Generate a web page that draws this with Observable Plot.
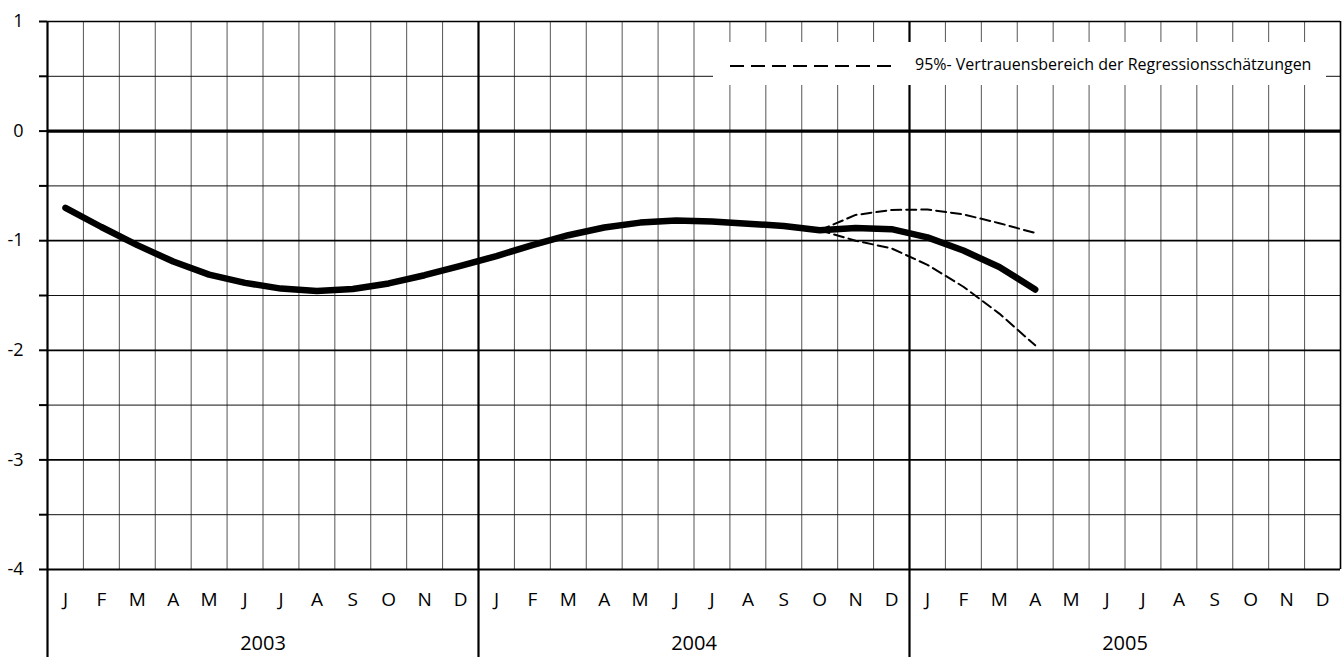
<!DOCTYPE html>
<html>
<head>
<meta charset="utf-8">
<script src="https://cdn.jsdelivr.net/npm/d3@7"></script>
<script src="https://cdn.jsdelivr.net/npm/@observablehq/plot@0.6"></script>
<style>
  html, body { margin: 0; padding: 0; background: #fff; }
  #wrap { position: relative; width: 1344px; height: 657px; overflow: hidden; font-family: "Open Sans", sans-serif; }
  #legend { position: absolute; left: 713px; top: 42px; width: 613px; height: 43px; background: #fff; }
  #legend svg { position: absolute; left: 17px; top: 22px; }
  #legend span { position: absolute; left: 202px; top: 12px; font-size: 16px; line-height: 20px; color: #000; white-space: nowrap; }
</style>
</head>
<body>
<div id="wrap"></div>
<script>
// ---- data ----
const monthLabels = ["J","F","M","A","M","J","J","A","S","O","N","D"];
const yearLabels = ["2003","2004","2005"];
const yTickLabels = ["1","0","-1","-2","-3","-4"];
// trend, Jan 2003 – Apr 2005
const trend = [
  -0.70, -0.875, -1.04, -1.19, -1.31, -1.385, -1.437, -1.458, -1.44, -1.39, -1.315, -1.23,
  -1.14, -1.04, -0.95, -0.88, -0.835, -0.815, -0.825, -0.845, -0.865, -0.905, -0.885, -0.895,
  -0.97, -1.09, -1.24, -1.445
];
// 95% confidence band, Oct 2004 – Apr 2005
const bandStart = 21; // month index of Oct 2004
const upper = [-0.905, -0.765, -0.72, -0.715, -0.76, -0.84, -0.93];
const lower = [-0.905, -1.0, -1.07, -1.22, -1.42, -1.665, -1.955];
const legendText = "95%- Vertrauensbereich der Regressionsschätzungen";

// ---- derived tables ----
const nMonths = monthLabels.length * yearLabels.length;
const trendData = trend.map((v, i) => ({x: i + 0.5, y: v}));
const upperData = upper.map((v, i) => ({x: bandStart + i + 0.5, y: v}));
const lowerData = lower.map((v, i) => ({x: bandStart + i + 0.5, y: v}));
const monthCenters = d3.range(nMonths).map(i => i + 0.5);
const yearCenters = yearLabels.map((_, i) => i * 12 + 6);
const monthBounds = d3.range(1, nMonths).filter(i => i % 12 !== 0);
const yearBounds = yearLabels.map((_, i) => i * 12);
const yMax = +yTickLabels[0], yMin = +yTickLabels[yTickLabels.length - 1];
const yAllTicks = d3.range(yMin, yMax + 0.001, 0.5);
const halfLines = yAllTicks.filter(d => !Number.isInteger(d));
const intLines = yAllTicks.filter(d => Number.isInteger(d) && d !== 0 && d !== yMin && d !== yMax);

const font = "Open Sans";
const chart = Plot.plot({
  width: 1344,
  height: 657,
  marginLeft: 47,
  marginRight: 4,
  marginTop: 21,
  marginBottom: 88,
  x: {domain: [0, nMonths], axis: null},
  y: {domain: [yMin, yMax], axis: null},
  style: {fontFamily: font, background: "#fff", color: "#000"},
  marks: [
    Plot.ruleX(monthBounds, {stroke: "#555", strokeWidth: 1}),
    Plot.ruleY(halfLines, {stroke: "#111", strokeWidth: 1}),
    Plot.ruleY(intLines, {stroke: "#000", strokeWidth: 1.8}),
    Plot.ruleY([yMax], {stroke: "#000", strokeWidth: 1.5}),
    Plot.ruleY([yMin], {stroke: "#000", strokeWidth: 2.2}),
    Plot.ruleY([0], {stroke: "#000", strokeWidth: 3.2}),
    Plot.ruleX(yearBounds, {stroke: "#000", strokeWidth: 2.2, insetBottom: -88}),
    Plot.ruleX([nMonths], {stroke: "#000", strokeWidth: 1.6}),
    Plot.line(upperData, {x: "x", y: "y", stroke: "#000", strokeWidth: 2, strokeDasharray: "10,5"}),
    Plot.line(lowerData, {x: "x", y: "y", stroke: "#000", strokeWidth: 2, strokeDasharray: "10,5"}),
    Plot.line(trendData, {x: "x", y: "y", stroke: "#000", strokeWidth: 6.5, strokeLinecap: "round", strokeLinejoin: "round"}),
    Plot.axisY(yAllTicks, {
      label: null, tickSize: 8, tickPadding: 16, strokeWidth: 2, fontSize: 18, fontFamily: font,
      tickFormat: d => Number.isInteger(d) ? yTickLabels[yMax - d] : ""
    }),
    Plot.axisX(monthCenters, {
      label: null, tickSize: 0, tickPadding: 23, fontSize: 19, fontFamily: font,
      tickFormat: d => monthLabels[Math.floor(d) % 12]
    }),
    Plot.axisX(yearCenters, {
      label: null, tickSize: 0, tickPadding: 66, fontSize: 20, fontFamily: font,
      tickFormat: d => yearLabels[Math.floor(d / 12)]
    })
  ]
});
const wrap = document.getElementById("wrap");
wrap.appendChild(chart);

// legend overlay
const legend = document.createElement("div");
legend.id = "legend";
legend.innerHTML = `<svg width="166" height="4"><line x1="0" x2="166" y1="2" y2="2" stroke="#000" stroke-width="2.2" stroke-dasharray="14,7"/></svg><span></span>`;
legend.querySelector("span").textContent = legendText;
wrap.appendChild(legend);
</script>
</body>
</html>
